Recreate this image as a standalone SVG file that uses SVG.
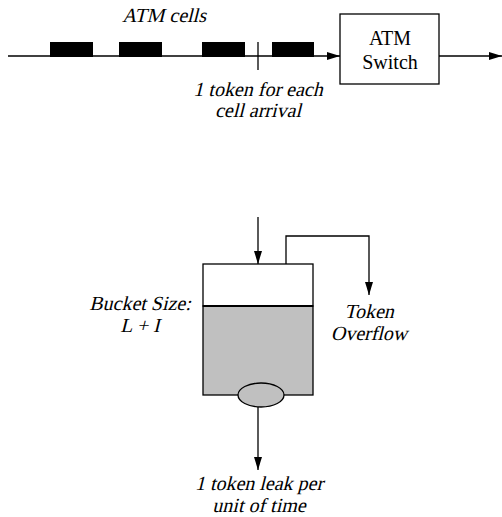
<svg xmlns="http://www.w3.org/2000/svg" width="502" height="517" viewBox="0 0 502 517">
<style>
text{font-family:"Liberation Serif","Times New Roman",serif;font-size:20px;fill:#000;text-anchor:middle}
.ln{stroke:#000;stroke-width:1.3;fill:none}
.cell{fill:#000}
</style>
<defs>
<marker id="ah" markerWidth="13" markerHeight="8" refX="13" refY="4" orient="auto" markerUnits="userSpaceOnUse">
<path d="M0,0 L13,4 L0,8 Z" fill="#000"/>
</marker>
</defs>
<rect width="502" height="517" fill="#fff"/>
<g id="cells">
<rect class="cell" x="50" y="42" width="43" height="15"/>
<rect class="cell" x="119" y="42" width="43" height="15"/>
<rect class="cell" x="202" y="42" width="43" height="15"/>
<rect class="cell" x="272" y="42" width="42" height="15"/>
<text transform="translate(164,22) skewX(-14)">ATM cells</text>
</g>
<g id="token-mark">
<line class="ln" x1="258" y1="42" x2="258" y2="70"/>
<text transform="translate(258,96) skewX(-14)">1 token for each</text>
<text transform="translate(258,117) skewX(-14)">cell arrival</text>
</g>
<g id="switch">
<rect x="340" y="14" width="99" height="70" fill="#fff" stroke="#000" stroke-width="1.3"/>
<text x="390" y="45">ATM</text>
<text x="390" y="69">Switch</text>
</g>
<g id="bucket">
<rect x="203" y="306" width="110" height="89" fill="#c0c0c0" stroke="#000" stroke-width="1.3"/>
<rect x="203" y="264" width="110" height="42" fill="#fff" stroke="#000" stroke-width="1.3"/>
<line x1="203" y1="306" x2="313" y2="306" stroke="#000" stroke-width="2"/>
<ellipse cx="261" cy="395" rx="23" ry="12" fill="#c0c0c0" stroke="#000" stroke-width="1.3"/>
<text transform="translate(140,310) skewX(-14)">Bucket Size:</text>
<text transform="translate(140,332) skewX(-14)">L + I</text>
</g>
<g id="overflow-label">
<text transform="translate(369,318) skewX(-14)">Token</text>
<text transform="translate(369,340) skewX(-14)">Overflow</text>
</g>
<g id="leak-label">
<text transform="translate(259,490) skewX(-14)">1 token leak per</text>
<text transform="translate(259,512) skewX(-14)">unit of time</text>
</g>
<g id="connectors">
<line class="ln" x1="8" y1="56" x2="340" y2="56" marker-end="url(#ah)"/>
<line class="ln" x1="439" y1="56" x2="502" y2="56" marker-end="url(#ah)"/>
<line class="ln" x1="258" y1="217" x2="258" y2="264" marker-end="url(#ah)"/>
<polyline class="ln" points="286,264 286,236 369,236 369,295" marker-end="url(#ah)"/>
<line class="ln" x1="258" y1="407" x2="258" y2="470" marker-end="url(#ah)"/>
</g>
</svg>
